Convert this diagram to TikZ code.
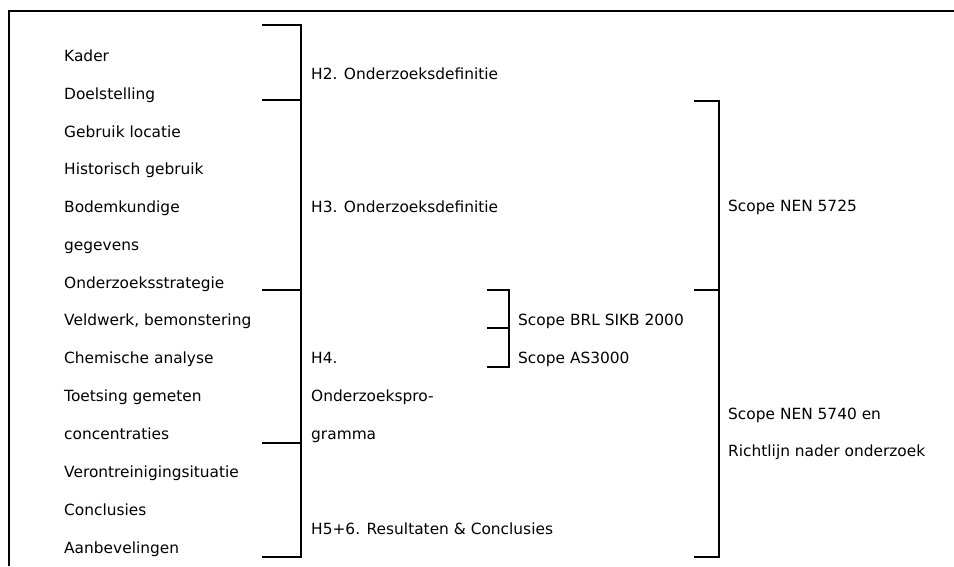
\documentclass[tikz,border=0pt]{standalone}
\usepackage{fontspec}
\setmainfont{DejaVu Sans}
\begin{document}
\begin{tikzpicture}[x=1pt,y=-1pt,
  lbl/.style={anchor=base west,inner sep=0pt,font=\fontsize{15.4}{18}\selectfont},
  brk/.style={line width=1.6pt,line cap=butt,line join=miter}]
\useasboundingbox (0,0) rectangle (954,566);
% frame
\draw[brk] (954,11) -- (9,11) -- (9,566);
% left items
\node[lbl] (kader) at (64,61) {Kader};
\node[lbl] (doel) at (64,99) {Doelstelling};
\node[lbl] (gebr) at (64,137) {Gebruik locatie};
\node[lbl] (hist) at (64,174) {Historisch gebruik};
\node[lbl] (bodem) at (64,212) {Bodemkundige};
\node[lbl] (geg) at (64,250) {gegevens};
\node[lbl] (strat) at (64,288) {Onderzoeksstrategie};
\node[lbl] (veld) at (64,325) {Veldwerk, bemonstering};
\node[lbl] (chem) at (64,363) {Chemische analyse};
\node[lbl] (toets) at (64,401) {Toetsing gemeten};
\node[lbl] (conc) at (64,439) {concentraties};
\node[lbl] (veront) at (64,477) {Verontreinigingsituatie};
\node[lbl] (concl) at (64,515) {Conclusies};
\node[lbl] (aanb) at (64,553) {Aanbevelingen};
% chapter labels
\node[lbl] (h2) at (311,79) {H2. Onderzoeksdefinitie};
\node[lbl] (h3) at (311,212) {H3. Onderzoeksdefinitie};
\node[lbl] (h4a) at (311,363) {H4.};
\node[lbl] (h4b) at (311,401) {Onderzoekspro-};
\node[lbl] (h4c) at (311,439) {gramma};
\node[lbl] (h56) at (311,534) {H5+6. Resultaten \& Conclusies};
% scope labels
\node[lbl] (brl) at (518,325) {Scope BRL SIKB 2000};
\node[lbl] (as) at (518,363) {Scope AS3000};
\node[lbl] (nen1) at (728,211) {Scope NEN 5725};
\node[lbl] (nen2) at (728,419) {Scope NEN 5740 en};
\node[lbl] (nen3) at (728,456) {Richtlijn nader onderzoek};
% chapter brackets
\draw[brk] (262,25) -- (301,25) -- (301,557) -- (262,557);
\draw[brk] (262,100) -- (301,100);
\draw[brk] (262,290) -- (301,290);
\draw[brk] (262,443) -- (301,443);
% small brackets
\draw[brk] (487,290) -- (509,290) -- (509,367) -- (487,367);
\draw[brk] (487,328) -- (509,328);
% big right bracket
\draw[brk] (694,101) -- (719,101) -- (719,557) -- (694,557);
\draw[brk] (694,290) -- (719,290);
\end{tikzpicture}
\end{document}
